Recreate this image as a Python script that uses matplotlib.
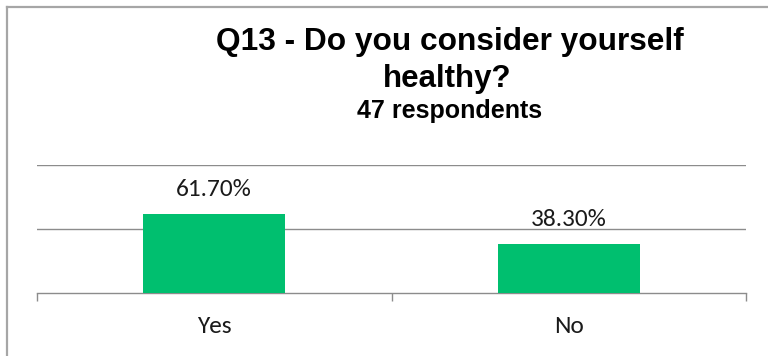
import matplotlib
matplotlib.use("Agg")
import matplotlib.pyplot as plt
from matplotlib.lines import Line2D
from matplotlib.ticker import FixedLocator

# Survey results for question 13
categories = ["Yes", "No"]
shares = [0.617, 0.383]
share_labels = ["61.70%", "38.30%"]

title_main = "Q13 - Do you consider yourself"
title_wrap = "healthy?"
subtitle = "47 respondents"

bar_color = "#00BF6F"
grid_color = "#8c8c8c"
text_color = "#1a1a1a"

fig = plt.figure(figsize=(7.68, 3.56), dpi=100)
ax = fig.add_axes([37 / 768, 1 - 293.3 / 356, 709 / 768, 128.3 / 356])

x = list(range(len(categories)))
ax.bar(x, shares, width=0.4, color=bar_color, zorder=3)

for xi, v, lab in zip(x, shares, share_labels):
    ax.annotate(lab, (xi, v), xytext=(0, 13), textcoords="offset points",
                ha="center", va="baseline", fontsize=18.3,
                family=["Carlito", "DejaVu Sans"], color=text_color)

ax.set_xlim(-0.5, len(categories) - 0.5)
ax.set_ylim(0, 1.0)

ax.set_yticks([0.5, 1.0])
ax.yaxis.grid(True, color=grid_color, linewidth=1.0, zorder=0)
ax.tick_params(axis="y", length=0, labelleft=False)

ax.set_xticks(x)
ax.set_xticklabels(categories, fontsize=18.3, family=["Carlito", "DejaVu Sans"],
                   color=text_color)
ax.tick_params(axis="x", which="major", length=0, pad=16)
ax.xaxis.set_minor_locator(FixedLocator([-0.5, 0.5, 1.5]))
ax.tick_params(axis="x", which="minor", length=6, width=1.0, color=grid_color,
               direction="out")

for side in ("top", "left", "right"):
    ax.spines[side].set_visible(False)
ax.spines["bottom"].set_color(grid_color)
ax.spines["bottom"].set_linewidth(1.0)

cx = 449.5 / 768
fig.text(cx, 1 - 50 / 356, title_main, ha="center", va="baseline",
         fontsize=22.8, fontweight="bold", family="Liberation Sans", color="black")
fig.text(cx - 2 / 768, 1 - 87 / 356, title_wrap, ha="center", va="baseline",
         fontsize=22.5, fontweight="bold", family="Liberation Sans", color="black")
fig.text(cx, 1 - 118 / 356, subtitle, ha="center", va="baseline",
         fontsize=18, fontweight="bold", family="Liberation Sans", color="black")

# chart-area frame (left and top edges)
bx, by = 7 / 768, 1 - 7 / 356
frame_kw = dict(color="#a6a6a6", linewidth=1.6, transform=fig.transFigure)
fig.add_artist(Line2D([bx, bx], [0, by], **frame_kw))
fig.add_artist(Line2D([bx, 1], [by, by], **frame_kw))

fig.savefig("out.png", dpi=100, facecolor="white")
